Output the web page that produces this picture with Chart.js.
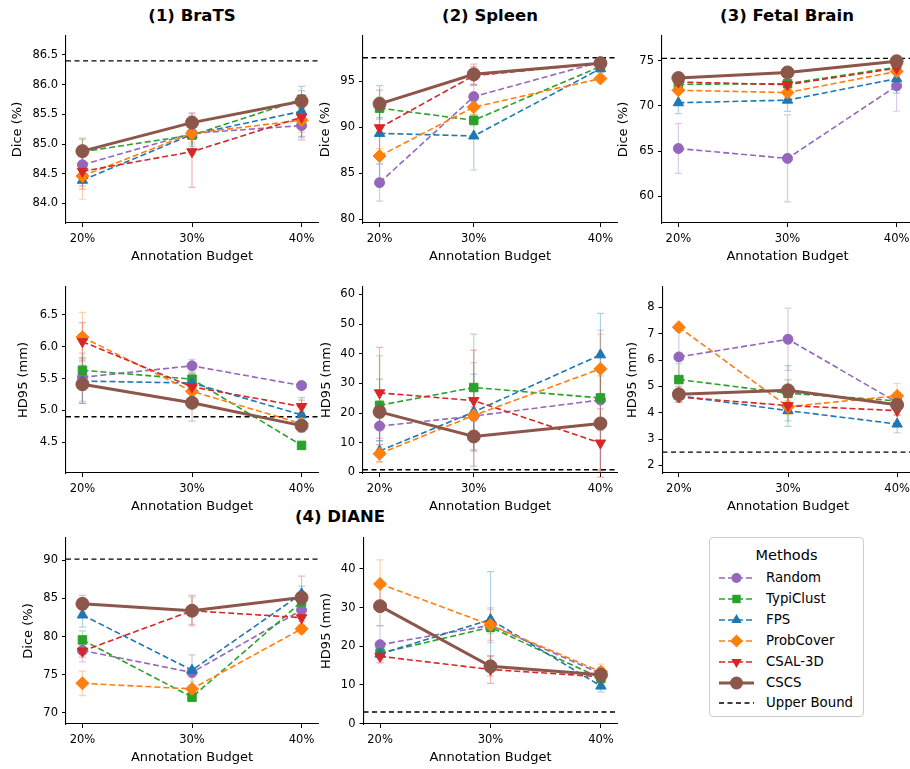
<!DOCTYPE html>
<html>
<head>
<meta charset="utf-8">
<script src="https://cdn.jsdelivr.net/npm/chart.js@4.4.0/dist/chart.umd.min.js"></script>
<style>
body { margin: 0; width: 910px; height: 769px; overflow: hidden; background: #fff; position: relative; font-family: "DejaVu Sans", sans-serif; color: #000; }
.panel { position: absolute; }
.title { position: absolute; font-weight: bold; font-size: 16.5px; transform: translate(-50%, -50%); white-space: nowrap; }
#legend { position: absolute; left: 709px; top: 537px; width: 155px; height: 180px; border: 1px solid #ccc; border-radius: 4px; box-sizing: border-box; }
#legend .lt { position: absolute; left: 0; width: 100%; top: 9px; text-align: center; font-size: 14.5px; }
#legend .row { position: absolute; left: 9px; height: 16px; font-size: 13.3px; line-height: 16px; }
#legend .row svg { position: absolute; left: 0; top: 1px; }
#legend .row span { position: absolute; left: 47px; white-space: nowrap; }
</style>
</head>
<body>
<div class="title" style="left:192px;top:15px">(1) BraTS</div>
<div class="title" style="left:490px;top:15px">(2) Spleen</div>
<div class="title" style="left:787px;top:15px">(3) Fetal Brain</div>
<div class="title" style="left:340px;top:516px">(4) DIANE</div>
<div id="legend"><div class="lt">Methods</div></div>

<script>
const budgets = ['20%', '30%', '40%'];
const methods = ['Random', 'TypiClust', 'FPS', 'ProbCover', 'CSAL-3D', 'CSCS'];
const colors = ['#9467bd', '#2ca02c', '#1f77b4', '#ff7f0e', '#d62728', '#8c564b'];
const xEven = [0, 1, 2];
const xSpleen = [0, 0.853, 2];

// rows follow the order of `methods`
const bratsDice = [[84.65, 85.18, 85.31], [84.87, 85.15, 85.75], [84.39, 85.16, 85.55], [84.46, 85.18, 85.40], [84.54, 84.87, 85.45], [84.88, 85.36, 85.72]];
const bratsDiceErr = [[0.25, 0.35, 0.2], [0.23, 0.15, 0.15], [0.1, 0.2, 0.42], [0.39, 0.15, 0.2], [0.3, 0.6, 0.38], [0.2, 0.15, 0.1]];
const spleenDice = [[83.96, 93.32, 97.1], [92.07, 90.75, 96.6], [89.32, 89.04, 96.36], [86.86, 92.18, 95.29], [89.93, 95.6, 96.95], [92.54, 95.75, 96.96]];
const spleenDiceErr = [[2.0, 1.2, 0.3], [1.2, 0.6, 0.3], [5.2, 3.7, 0.4], [0.8, 0.8, 0.2], [3.0, 1.0, 0.3], [1.5, 1.1, 0.3]];
const fetalDice = [[65.28, 64.19, 72.2], [72.38, 72.45, 74.27], [70.34, 70.63, 73.0], [71.72, 71.47, 73.8], [72.63, 72.34, 74.16], [73.07, 73.69, 74.93]];
const fetalDiceErr = [[2.75, 4.8, 2.8], [0.4, 0.4, 0.3], [1.2, 1.25, 1.6], [0.4, 0.5, 0.3], [0.3, 0.4, 0.3], [0.3, 0.3, 0.3]];
const bratsHD = [[5.52, 5.70, 5.39], [5.63, 5.49, 4.45], [5.46, 5.43, 4.93], [6.15, 5.30, 4.79], [6.08, 5.37, 5.06], [5.41, 5.12, 4.76]];
const bratsHDErr = [[0.38, 0.1, 0.05], [0.2, 0.1, 0.05], [0.35, 0.1, 0.27], [0.39, 0.1, 0.1], [0.3, 0.2, 0.1], [0.3, 0.29, 0.1]];
const spleenHD = [[15.6, 19.0, 24.4], [22.6, 28.6, 25.1], [7.2, 20.4, 39.6], [6.3, 19.2, 34.9], [26.8, 24.2, 9.9], [20.4, 12.1, 16.5]];
const spleenHDErr = [[5, 18, 23.5], [16.7, 18, 11], [3.5, 12.7, 14], [3, 2, 11.7], [15.3, 17, 11.5], [11, 10, 16]];
const fetalHD = [[6.12, 6.79, 4.39], [5.26, 4.74, 4.45], [4.64, 4.08, 3.57], [7.25, 4.23, 4.64], [4.60, 4.27, 4.08], [4.70, 4.85, 4.30]];
const fetalHDErr = [[1.0, 1.18, 0.15], [0.6, 1.05, 0.3], [0.2, 0.6, 0.33], [0.15, 0.3, 0.47], [0.2, 0.3, 0.15], [0.3, 0.4, 0.2]];
const dianeDice = [[78.17, 75.29, 83.46], [79.55, 72.06, 84.54], [82.82, 75.59, 85.6], [73.87, 73.14, 81.01], [78.09, 83.38, 82.47], [84.28, 83.38, 85.1]];
const dianeDiceErr = [[1.5, 0.6, 0.8], [1.2, 0.6, 1.0], [1.6, 2.0, 1.0], [1.6, 1.0, 0.6], [0.8, 1.8, 0.5], [1.1, 2.0, 2.8]];
const dianeHD = [[20.4, 25.4, 12.9], [18.2, 24.9, 11.7], [18.0, 26.9, 9.7], [36.1, 25.5, 13.4], [17.4, 14.0, 12.1], [30.36, 14.8, 12.6]];
const dianeHDErr = [[4.8, 4.5, 1.5], [1.5, 1.5, 1.5], [1.5, 12.4, 1.5], [6.2, 4, 2], [1.5, 3.6, 1], [5, 2.5, 2]];

const upperBounds = [86.4, 97.55, 75.25, 4.9, 0.9, 2.5, 90.15, 3.0];

const ticks1 = [84.0, 84.5, 85.0, 85.5, 86.0, 86.5];
const ticks2 = [80, 85, 90, 95];
const ticks3 = [60, 65, 70, 75];
const ticks4 = [4.5, 5.0, 5.5, 6.0, 6.5];
const ticks5 = [0, 10, 20, 30, 40, 50, 60];
const ticks6 = [2, 3, 4, 5, 6, 7, 8];
const ticks7 = [70, 75, 80, 85, 90];
const ticks8 = [0, 10, 20, 30, 40];

const markers = [
    { style: 'circle', r: 5, rot: 0 },
    { style: 'rect', r: 6, rot: 0 },
    { style: 'triangle', r: 6, rot: 0 },
    { style: 'rectRot', r: 6.5, rot: 0 },
    { style: 'triangle', r: 6, rot: 180 },
    { style: 'circle', r: 6.5, rot: 0 }
];

const FONT = '"DejaVu Sans", sans-serif';
const XH = 41, PT = 8, PR = 8;

function alpha(hex, a) {
    const n = parseInt(hex.slice(1), 16);
    return `rgba(${n >> 16},${(n >> 8) & 255},${n & 255},${a})`;
}

const errorBars = {
    id: 'errorBars',
    beforeDatasetsDraw(chart) {
        const { ctx, scales: { x, y } } = chart;
        ctx.save();
        ctx.lineWidth = 1.2;
        chart.data.datasets.forEach(ds => {
            if (!ds.errors) return;
            ctx.strokeStyle = ds.errColor;
            ds.data.forEach((p, i) => {
                const px = x.getPixelForValue(p.x);
                const lo = y.getPixelForValue(p.y - ds.errors[i]);
                const hi = y.getPixelForValue(p.y + ds.errors[i]);
                ctx.beginPath();
                ctx.moveTo(px, lo); ctx.lineTo(px, hi);
                ctx.moveTo(px - 3.5, lo); ctx.lineTo(px + 3.5, lo);
                ctx.moveTo(px - 3.5, hi); ctx.lineTo(px + 3.5, hi);
                ctx.stroke();
            });
        });
        ctx.restore();
    }
};

function makePanel(p) {
    const [left, top, right, bottom] = p.rect;
    const YW = p.yw;
    const div = document.createElement('div');
    div.className = 'panel';
    div.style.left = (left - YW) + 'px';
    div.style.top = (top - PT) + 'px';
    div.style.width = (right - left + YW + PR) + 'px';
    div.style.height = (bottom - top + PT + XH + 2) + 'px';
    const canvas = document.createElement('canvas');
    div.appendChild(canvas);
    document.body.appendChild(div);

    const datasets = methods.map((m, i) => ({
        label: m,
        data: p.means[i].map((v, j) => ({ x: p.xPos[j], y: v })),
        errors: p.errs[i],
        errColor: alpha(colors[i], 0.35),
        borderColor: colors[i],
        backgroundColor: colors[i],
        borderWidth: i === 5 ? 3 : 1.6,
        borderDash: i === 5 ? [] : [6, 3],
        pointStyle: markers[i].style,
        pointRadius: markers[i].r,
        pointRotation: markers[i].rot,
        pointBorderWidth: 1,
        tension: 0,
        clip: false,
        order: methods.length - i
    }));
    datasets.push({
        label: 'Upper Bound',
        data: [{ x: -0.15, y: p.ub }, { x: 2.15, y: p.ub }],
        borderColor: '#000',
        borderWidth: 1.3,
        borderDash: [5, 3.5],
        pointRadius: 0,
        clip: false,
        order: 10
    });

    new Chart(canvas, {
        type: 'line',
        data: { datasets },
        options: {
            responsive: true,
            maintainAspectRatio: false,
            animation: false,
            layout: { padding: { top: PT, right: PR, left: 0, bottom: 2 } },
            plugins: { legend: { display: false }, tooltip: { enabled: false } },
            scales: {
                x: {
                    type: 'linear',
                    min: -0.15,
                    max: 2.15,
                    afterBuildTicks: s => { s.ticks = p.xPos.map(v => ({ value: v })); },
                    afterFit: s => { s.height = XH; },
                    ticks: {
                        callback: (v, i) => budgets[i],
                        autoSkip: false,
                        maxRotation: 0,
                        color: '#000',
                        padding: 5,
                        font: { family: FONT, size: 11.5 }
                    },
                    grid: { display: true, drawOnChartArea: false, tickLength: 4, color: '#000' },
                    border: { display: true, color: '#000', width: 1.1 },
                    title: { display: true, text: 'Annotation Budget', color: '#000', padding: 0, font: { family: FONT, size: 13 } }
                },
                y: {
                    type: 'linear',
                    min: p.yMin,
                    max: p.yMax,
                    afterBuildTicks: s => { s.ticks = p.yTicks.map(v => ({ value: v })); },
                    afterFit: s => { s.width = YW; },
                    ticks: {
                        callback: v => v.toFixed(p.dec),
                        color: '#000',
                        padding: 4,
                        font: { family: FONT, size: 11.5 }
                    },
                    grid: { display: true, drawOnChartArea: false, tickLength: 4, color: '#000' },
                    border: { display: true, color: '#000', width: 1.1 },
                    title: { display: true, text: p.yLabel, color: '#000', padding: 0, font: { family: FONT, size: 13 } }
                }
            }
        },
        plugins: [errorBars]
    });
}

const col = [[66, 318], [363, 617], [662, 913]];
const row = [[33, 223], [284, 473], [535, 724]];

const panels = [
    { rect: [col[0][0], row[0][0], col[0][1], row[0][1]], yw: 56, means: bratsDice, errs: bratsDiceErr, ub: upperBounds[0], yMin: 83.67, yMax: 86.82, yTicks: ticks1, dec: 1, xPos: xEven, yLabel: 'Dice (%)' },
    { rect: [col[1][0], row[0][0], col[1][1], row[0][1]], yw: 45, means: spleenDice, errs: spleenDiceErr, ub: upperBounds[1], yMin: 79.57, yMax: 99.93, yTicks: ticks2, dec: 0, xPos: xSpleen, yLabel: 'Dice (%)' },
    { rect: [col[2][0], row[0][0], col[2][1], row[0][1]], yw: 46, means: fetalDice, errs: fetalDiceErr, ub: upperBounds[2], yMin: 57.05, yMax: 77.73, yTicks: ticks3, dec: 0, xPos: xEven, yLabel: 'Dice (%)' },
    { rect: [col[0][0], row[1][0], col[0][1], row[1][1]], yw: 50, means: bratsHD, errs: bratsHDErr, ub: upperBounds[3], yMin: 4.016, yMax: 6.94, yTicks: ticks4, dec: 1, xPos: xEven, yLabel: 'HD95 (mm)' },
    { rect: [col[1][0], row[1][0], col[1][1], row[1][1]], yw: 44, means: spleenHD, errs: spleenHDErr, ub: upperBounds[4], yMin: -0.2, yMax: 62.5, yTicks: ticks5, dec: 0, xPos: xSpleen, yLabel: 'HD95 (mm)' },
    { rect: [col[2][0], row[1][0], col[2][1], row[1][1]], yw: 37.5, means: fetalHD, errs: fetalHDErr, ub: upperBounds[5], yMin: 1.71, yMax: 8.78, yTicks: ticks6, dec: 0, xPos: xEven, yLabel: 'HD95 (mm)' },
    { rect: [col[0][0], row[2][0], col[0][1], row[2][1]], yw: 45, means: dianeDice, errs: dianeDiceErr, ub: upperBounds[6], yMin: 68.54, yMax: 92.92, yTicks: ticks7, dec: 0, xPos: xEven, yLabel: 'Dice (%)' },
    { rect: [col[1][0], row[2][0], col[1][1], row[2][1]], yw: 44.5, means: dianeHD, errs: dianeHDErr, ub: upperBounds[7], yMin: -0.1, yMax: 48, yTicks: ticks8, dec: 0, xPos: xEven, yLabel: 'HD95 (mm)' }
];

panels.forEach(makePanel);

// legend
const legend = document.getElementById('legend');
const legendNames = methods.concat(['Upper Bound']);
legendNames.forEach((name, i) => {
    const r = document.createElement('div');
    r.className = 'row';
    r.style.top = (32 + i * 20.9) + 'px';
    let svg;
    if (i < methods.length) {
        const c = colors[i];
        const line = i === 5
            ? `<line x1="0" y1="7" x2="35" y2="7" stroke="${c}" stroke-width="3"/>`
            : `<line x1="0" y1="7" x2="35" y2="7" stroke="${c}" stroke-width="1.6" stroke-dasharray="6 3"/>`;
        let mk = '';
        const cx = 17.5, cy = 7;
        if (markers[i].style === 'circle') mk = `<circle cx="${cx}" cy="${cy}" r="${markers[i].r}" fill="${c}"/>`;
        if (markers[i].style === 'rect') mk = `<rect x="${cx - 4.2}" y="${cy - 4.2}" width="8.4" height="8.4" fill="${c}"/>`;
        if (markers[i].style === 'rectRot') mk = `<polygon points="${cx},${cy - 6.5} ${cx + 6.5},${cy} ${cx},${cy + 6.5} ${cx - 6.5},${cy}" fill="${c}"/>`;
        if (markers[i].style === 'triangle') {
            const s = markers[i].rot ? -1 : 1;
            mk = `<polygon points="${cx},${cy - 6 * s} ${cx + 5.2},${cy + 3 * s} ${cx - 5.2},${cy + 3 * s}" fill="${c}"/>`;
        }
        svg = `<svg width="36" height="14">${line}${mk}</svg>`;
    } else {
        svg = `<svg width="36" height="14"><line x1="0" y1="7" x2="35" y2="7" stroke="#000" stroke-width="1.3" stroke-dasharray="5 3.5"/></svg>`;
    }
    r.innerHTML = svg + `<span>${name}</span>`;
    legend.appendChild(r);
});
</script>
</body>
</html>
